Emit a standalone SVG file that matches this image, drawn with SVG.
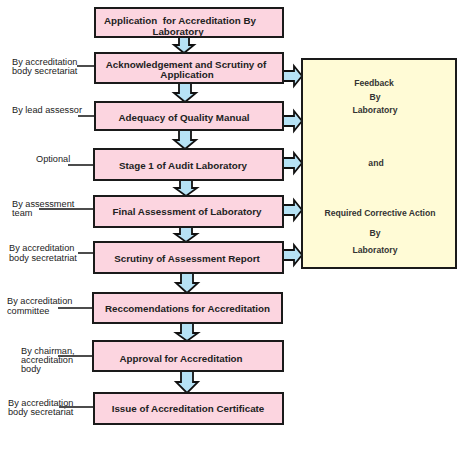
<svg xmlns="http://www.w3.org/2000/svg" width="474" height="453" viewBox="0 0 474 453">
<style>
.box{fill:#fcd5e0;stroke:#1a1a1a;stroke-width:2}
.fb{fill:#fffbd6;stroke:#1a1a1a;stroke-width:2}
.arr{fill:#b6e2f5;stroke:#111;stroke-width:1.8;stroke-linejoin:miter}
.ln{stroke:#111;stroke-width:1.5}
.bt{font-family:"Liberation Sans",Arial,sans-serif;font-weight:bold;font-size:9.8px;fill:#222;text-anchor:middle}
.ft{font-family:"Liberation Sans",Arial,sans-serif;font-weight:bold;font-size:8.6px;fill:#333;text-anchor:middle}
.lt{font-family:"Liberation Sans",Arial,sans-serif;font-size:9.2px;fill:#222}
</style>
<rect width="474" height="453" fill="#fff"/>
<g id="connectors">
<path class="arr" d="M179,37 V45 H174 L184,53 L194,45 H189 V37"/>
<path class="arr" d="M179,83 V93 H174 L185,102 L196,93 H191 V83"/>
<path class="arr" d="M179,130 V140 H174 L185,149 L196,140 H191 V130"/>
<path class="arr" d="M180,180 V188 H175 L186,196 L197,188 H192 V180"/>
<path class="arr" d="M180,227 V234 H175 L186,242 L197,234 H192 V227"/>
<path class="arr" d="M181,273 V283 H176 L187,293 L198,283 H193 V273"/>
<path class="arr" d="M181,323 V333 H176 L187,341 L198,333 H193 V323"/>
<path class="arr" d="M181,371 V382 H176 L187,393 L198,382 H193 V371"/>
<path class="arr" d="M283,71 H294 V66 L302,76 L294,86 V81 H283"/>
<path class="arr" d="M283,116 H294 V111 L302,121 L294,131 V126 H283"/>
<path class="arr" d="M283,158 H294 V153 L302,163 L294,173 V168 H283"/>
<path class="arr" d="M283,205 H294 V200 L302,210 L294,220 V215 H283"/>
<path class="arr" d="M283,250 H294 V245 L302,255 L294,265 V260 H283"/>
<line class="ln" x1="77" y1="66" x2="95" y2="66"/>
<line class="ln" x1="78" y1="116" x2="95" y2="116"/>
<line class="ln" x1="68" y1="165" x2="94" y2="165"/>
<line class="ln" x1="39" y1="209" x2="94" y2="209"/>
<line class="ln" x1="78" y1="253" x2="94" y2="253"/>
<line class="ln" x1="58" y1="308" x2="93" y2="308"/>
<line class="ln" x1="58" y1="356" x2="93" y2="356"/>
<line class="ln" x1="59" y1="407" x2="94" y2="407"/>
</g>
<g id="n1"><rect class="box" x="95" y="8" width="188" height="29"/>
<text class="bt" x="180" y="23.5" style="white-space:pre">Application  for Accreditation By</text>
<text class="bt" x="178" y="35">Laboratory</text></g>
<g id="n2"><rect class="box" x="95" y="53" width="188" height="30"/>
<text class="bt" x="186" y="67.5">Acknowledgement and Scrutiny of</text>
<text class="bt" x="187" y="78">Application</text></g>
<g id="n3"><rect class="box" x="95" y="102" width="188" height="28"/>
<text class="bt" x="184" y="120.5">Adequacy of Quality Manual</text></g>
<g id="n4"><rect class="box" x="94" y="149" width="189" height="31"/>
<text class="bt" x="183" y="168.5">Stage 1 of Audit Laboratory</text></g>
<g id="n5"><rect class="box" x="94" y="196" width="189" height="31"/>
<text class="bt" x="187" y="214.5">Final Assessment of Laboratory</text></g>
<g id="n6"><rect class="box" x="94" y="242" width="189" height="31"/>
<text class="bt" x="187" y="261.5">Scrutiny of Assessment Report</text></g>
<g id="n7"><rect class="box" x="93" y="293" width="189" height="30"/>
<text class="bt" x="187.5" y="311.5">Reccomendations for Accreditation</text></g>
<g id="n8"><rect class="box" x="93" y="341" width="190" height="30"/>
<text class="bt" x="181" y="361.5">Approval for Accreditation</text></g>
<g id="n9"><rect class="box" x="94" y="393" width="189" height="31"/>
<text class="bt" x="188" y="411.5">Issue of Accreditation Certificate</text></g>
<g id="feedback"><rect class="fb" x="302" y="59" width="154" height="209"/>
<text class="ft" x="374" y="86">Feedback</text>
<text class="ft" x="375" y="100">By</text>
<text class="ft" x="375" y="113">Laboratory</text>
<text class="ft" x="376" y="166">and</text>
<text class="ft" x="380" y="216">Required Corrective Action</text>
<text class="ft" x="375" y="236">By</text>
<text class="ft" x="375" y="253">Laboratory</text></g>
<g id="labels">
<text class="lt" x="12" y="65">By accreditation</text>
<text class="lt" x="12" y="73.5">body secretariat</text>
<text class="lt" x="12" y="113">By lead assessor</text>
<text class="lt" x="36" y="162">Optional</text>
<text class="lt" x="12" y="207">By assessment</text>
<text class="lt" x="12" y="216">team</text>
<text class="lt" x="9" y="251">By accreditation</text>
<text class="lt" x="9" y="261">body secretatriat</text>
<text class="lt" x="7" y="304">By accreditation</text>
<text class="lt" x="7" y="313.5">committee</text>
<text class="lt" x="21" y="354">By chairman,</text>
<text class="lt" x="21" y="363">accreditation</text>
<text class="lt" x="21" y="372">body</text>
<text class="lt" x="8" y="406">By accreditation</text>
<text class="lt" x="8" y="415">body secretariat</text>
</g>
</svg>
